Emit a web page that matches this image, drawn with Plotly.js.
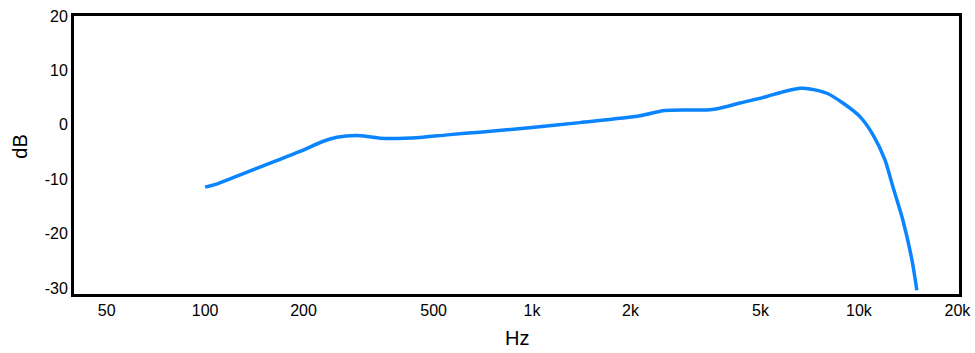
<!DOCTYPE html>
<html>
<head>
<meta charset="utf-8">
<script src="https://cdn.plot.ly/plotly-3.0.1.min.js"></script>
<style>html,body{margin:0;padding:0;background:#fff;}#chart{width:975px;height:353px;}</style>
</head>
<body>
<div id="chart"></div>
<script>
const freqHz = [100, 107, 128, 158, 195, 229, 253, 291, 319, 343, 454, 550, 692, 1000, 1400, 2138, 2547, 3500, 3756, 4330, 5230, 5730, 6600, 7080, 7980, 8930, 10070, 11040, 12000, 12700, 13620, 14520, 15030];
const levelDb = [-11.45, -11.0, -9.2, -7.05, -4.9, -3.07, -2.27, -1.96, -2.2, -2.45, -2.33, -1.85, -1.35, -0.5, 0.4, 1.65, 2.63, 2.75, 3.06, 4.0, 5.2, 5.9, 6.7, 6.6, 5.8, 4.0, 1.5, -1.84, -6.4, -11.4, -17.5, -24.8, -30.4];
const xTickVals = [50, 100, 200, 500, 1000, 2000, 5000, 10000, 20000];
const xTickText = ['50', '100', '200', '500', '1k', '2k', '5k', '10k', '20k'];
const yTickVals = [-30, -20, -10, 0, 10, 20];
const yTickText = ['-30', '-20', '-10', '0', '10', '20'];
const xTitle = 'Hz';
const yTitle = 'dB';

const trace = {
  x: freqHz, y: levelDb, type: 'scatter', mode: 'lines',
  line: {color: 'rgb(10,132,255)', width: 3.5, shape: 'spline', smoothing: 0.8},
  hoverinfo: 'skip'
};
const font = {family: 'Liberation Sans, Arial, sans-serif', color: '#000'};
const layout = {
  width: 975, height: 353,
  margin: {l: 74, r: 16, t: 16, b: 59},
  paper_bgcolor: '#fff', plot_bgcolor: '#fff',
  showlegend: false,
  font: Object.assign({size: 16}, font),
  xaxis: {
    type: 'log', range: [1.599, 4.306],
    tickvals: xTickVals, ticktext: xTickText,
    showgrid: false, zeroline: false, ticks: '',
    showline: true, mirror: true, linecolor: '#000', linewidth: 3,
    tickfont: Object.assign({size: 16}, font)
  },
  yaxis: {
    range: [-31.1, 20],
    tickvals: yTickVals, ticktext: yTickText,
    showgrid: false, zeroline: false, ticks: '',
    showline: true, mirror: true, linecolor: '#000', linewidth: 3,
    tickfont: Object.assign({size: 16}, font)
  },
  annotations: [
    {text: xTitle, xref: 'paper', yref: 'paper', x: 0.5, y: 0, xanchor: 'center', yanchor: 'middle',
     yshift: -44, showarrow: false, font: Object.assign({size: 20}, font)},
    {text: yTitle, xref: 'paper', yref: 'paper', x: 0, y: 0.53, xanchor: 'center', yanchor: 'middle',
     xshift: -54, textangle: -90, showarrow: false, font: Object.assign({size: 20}, font)}
  ]
};
Plotly.newPlot('chart', [trace], layout, {staticPlot: true, displayModeBar: false});
</script>
</body>
</html>
